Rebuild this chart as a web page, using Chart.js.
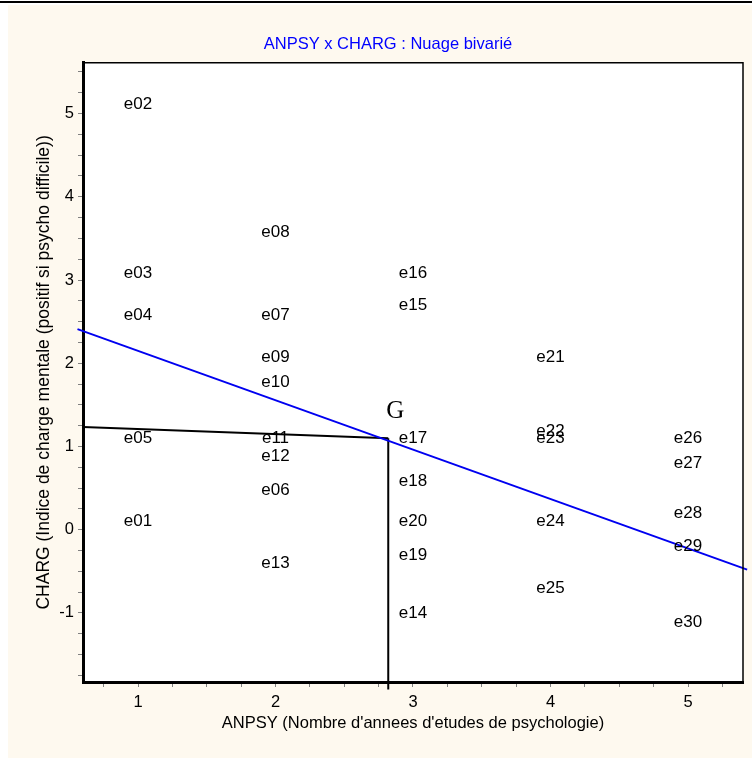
<!DOCTYPE html>
<html><head><meta charset="utf-8">
<script src="https://cdn.jsdelivr.net/npm/chart.js@4/dist/chart.umd.min.js"></script>
<style>
html,body{margin:0;padding:0;background:#fff;width:752px;height:758px;overflow:hidden}
#bg{position:absolute;left:8px;top:5px;width:744px;height:753px;background:#FEF9EF}
#topline{position:absolute;left:0;top:1px;width:752px;height:2px;background:#000}
#wrap{position:absolute;left:0;top:0;width:752px;height:758px}
</style></head><body>
<div id="bg"></div><div id="topline"></div>
<div id="wrap"><canvas id="c" width="752" height="758"></canvas></div>
<script>
// Observations
const obsLabels = ['e01','e02','e03','e04','e05','e06','e07','e08','e09','e10',
  'e11','e12','e13','e14','e15','e16','e17','e18','e19','e20',
  'e21','e22','e23','e24','e25','e26','e27','e28','e29','e30'];
const anpsy = [1,1,1,1,1, 2,2,2,2,2,2,2,2, 3,3,3,3,3,3,3, 4,4,4,4,4, 5,5,5,5,5];
const charg = [0.12,5.13,3.11,2.60,1.12, 0.50,2.60,3.60,2.10,1.80,1.12,0.91,-0.38,
  -0.98,2.72,3.11,1.12,0.61,-0.28,0.12, 2.10,1.21,1.12,0.12,-0.68, 1.12,0.82,0.22,-0.18,-1.09];
// Regression line (blue)
const regX = [0.56, 5.43];
const regY = [2.41, -0.48];
// Lines to centre of gravity G
const hLineX = [0.6, 2.82];
const hLineY = [1.235, 1.10];
const vLineX = [2.82, 2.82];
const vLineY = [1.10, -1.92];
const gX = 2.82, gY = 1.10;
// Axis ranges
const xMin = 0.6, xMax = 5.4, yMin = -1.83, yMax = 5.61;

const FONT = 'Liberation Sans, Arial, sans-serif';
const FS = 16.5;
const pts = (xs, ys) => xs.map((x, i) => ({x, y: ys[i]}));

const bgPlugin = {
  id: 'bgPlugin',
  beforeDraw(chart) {
    const {ctx, chartArea: a} = chart;
    ctx.save(); ctx.fillStyle = '#fff';
    ctx.fillRect(a.left, a.top, a.right - a.left, a.bottom - a.top);
    ctx.restore();
  },
  afterDraw(chart) {
    const {ctx, chartArea: a, scales} = chart;
    ctx.save();
    ctx.strokeStyle = '#000'; ctx.lineWidth = 1.5;
    ctx.beginPath();
    ctx.moveTo(a.left, a.top); ctx.lineTo(a.right, a.top); ctx.lineTo(a.right, a.bottom);
    ctx.stroke();
    // observation labels
    const meta = chart.getDatasetMeta(0);
    ctx.fillStyle = '#000'; ctx.font = '17px ' + FONT;
    ctx.textAlign = 'center'; ctx.textBaseline = 'middle';
    meta.data.forEach((el, i) => ctx.fillText(obsLabels[i], el.x, el.y + 2));
    // G label
    const px = scales.x.getPixelForValue(gX), py = scales.y.getPixelForValue(gY);
    ctx.font = '25px "Liberation Serif", "Times New Roman", serif';
    ctx.fillText('G', px + 7, py - 27);
    ctx.restore();
  }
};

new Chart(document.getElementById('c'), {
  type: 'scatter',
  data: {
    datasets: [
      {data: pts(anpsy, charg), pointRadius: 0, pointHoverRadius: 0},
      {type: 'line', data: pts(regX, regY), borderColor: '#0000F0', borderWidth: 2, pointRadius: 0, clip: false, fill: false},
      {type: 'line', data: pts(hLineX, hLineY), borderColor: '#000', borderWidth: 2, pointRadius: 0, clip: false, fill: false},
      {type: 'line', data: pts(vLineX, vLineY), borderColor: '#000', borderWidth: 2, pointRadius: 0, clip: false, fill: false}
    ]
  },
  options: {
    responsive: false, animation: false,
    layout: {padding: {left: 33, right: 9, top: 0, bottom: 0}},
    plugins: {
      legend: {display: false}, tooltip: {enabled: false},
      title: {display: true, text: 'ANPSY x CHARG : Nuage bivarié', color: '#0000FF',
        font: {family: FONT, size: FS, weight: 'normal'}, padding: {top: 35, bottom: 8}}
    },
    scales: {
      x: {type: 'linear', min: xMin, max: xMax,
        afterFit(s) { s.height = 76; },
        ticks: {stepSize: 0.25, includeBounds: false, autoSkip: false, maxRotation: 0, color: '#000',
          font: {family: FONT, size: FS}, padding: 6,
          callback: v => Number.isInteger(v) ? String(v) : ''},
        grid: {drawOnChartArea: false, drawTicks: true, tickLength: 5, tickColor: '#808080', tickWidth: 1},
        border: {display: true, color: '#000', width: 3},
        title: {display: true, text: "ANPSY (Nombre d'annees d'etudes de psychologie)", color: '#000',
          font: {family: FONT, size: FS}, padding: {top: 0, bottom: 25}}
      },
      y: {type: 'linear', min: yMin, max: yMax,
        afterFit(s) { s.width = 50; },
        ticks: {stepSize: 0.25, includeBounds: false, autoSkip: false, color: '#000',
          font: {family: FONT, size: FS}, padding: 4,
          callback: v => Number.isInteger(v) ? String(v) : ''},
        grid: {drawOnChartArea: false, drawTicks: true, tickLength: 5, tickColor: '#808080', tickWidth: 1},
        border: {display: true, color: '#000', width: 3},
        title: {display: true, text: 'CHARG (Indice de charge mentale (positif si psycho difficile))', color: '#000',
          font: {family: FONT, size: 17.5}, padding: {top: 1, bottom: 0}}
      }
    }
  },
  plugins: [bgPlugin]
});
</script>
</body></html>
